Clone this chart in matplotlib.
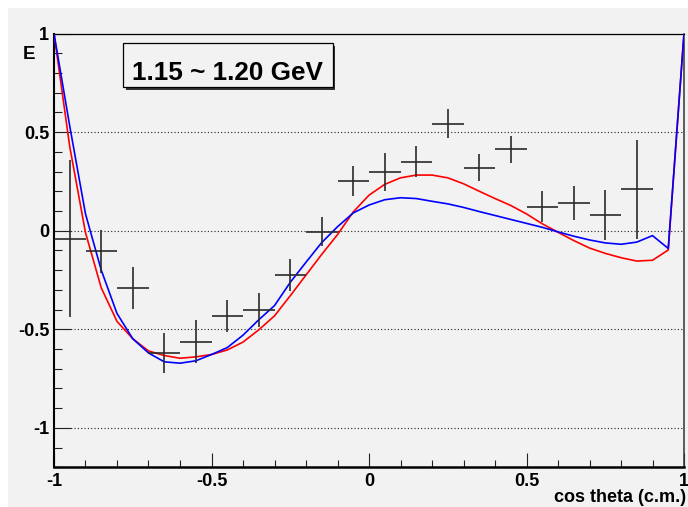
import matplotlib
matplotlib.use("Agg")
import matplotlib.pyplot as plt
from matplotlib.patches import Rectangle
from matplotlib.ticker import FixedLocator, FixedFormatter, MultipleLocator

plt.rcParams['font.family'] = ['Liberation Sans', 'DejaVu Sans']
plt.rcParams['font.weight'] = 'bold'

# measured E, 0.1 wide bins in cos theta
cos_bins = [-0.95, -0.85, -0.75, -0.65, -0.55, -0.45, -0.35, -0.25, -0.15, -0.05,
            0.05, 0.15, 0.25, 0.35, 0.45, 0.55, 0.65, 0.75, 0.85]
e_data = [-0.04, -0.105, -0.29, -0.62, -0.563, -0.433, -0.402, -0.225, -0.005, 0.252,
          0.298, 0.35, 0.543, 0.32, 0.413, 0.122, 0.139, 0.08, 0.21]
e_err = [0.40, 0.11, 0.105, 0.10, 0.11, 0.083, 0.087, 0.08, 0.075, 0.076,
         0.098, 0.08, 0.072, 0.069, 0.068, 0.078, 0.086, 0.125, 0.25]
bin_half = 0.05

# model curves
cos_model = [-1.0, -0.95, -0.9, -0.85, -0.8, -0.75, -0.7, -0.65, -0.6, -0.55,
             -0.5, -0.45, -0.4, -0.35, -0.3, -0.25, -0.2, -0.15, -0.1, -0.05,
             0.0, 0.05, 0.1, 0.15, 0.2, 0.25, 0.3, 0.35, 0.4, 0.45,
             0.5, 0.55, 0.6, 0.65, 0.7, 0.75, 0.8, 0.85, 0.9, 0.95, 1.0]
e_red = [1.0, 0.426, -0.01, -0.29, -0.46, -0.548, -0.61, -0.633, -0.647, -0.64,
         -0.628, -0.605, -0.565, -0.503, -0.432, -0.33, -0.225, -0.12, -0.02, 0.095,
         0.18, 0.235, 0.268, 0.282, 0.282, 0.268, 0.238, 0.2, 0.163, 0.128,
         0.085, 0.035, -0.008, -0.05, -0.088, -0.115, -0.137, -0.154, -0.15, -0.098, 1.0]
e_blue = [1.0, 0.53, 0.085, -0.2, -0.42, -0.548, -0.62, -0.665, -0.672, -0.66,
          -0.628, -0.593, -0.53, -0.452, -0.38, -0.262, -0.16, -0.06, 0.02, 0.09,
          0.13, 0.157, 0.167, 0.163, 0.149, 0.136, 0.118, 0.097, 0.077, 0.057,
          0.037, 0.017, -0.006, -0.028, -0.047, -0.062, -0.069, -0.058, -0.025, -0.09, 1.0]

x_ticks = [-1, -0.5, 0, 0.5, 1]
x_labels = ['-1', '-0.5', '0', '0.5', '1']
y_ticks = [-1, -0.5, 0, 0.5, 1]
y_labels = ['-1', '-0.5', '0', '0.5', '1']

W, H = 688, 507
pad_color = '#f2f2f2'

fig = plt.figure(figsize=(W / 100, H / 100), dpi=100)
fig.patch.set_facecolor('white')
# grey canvas pad, kept behind the axes
fig.patches.append(Rectangle((8 / W, 0), (W - 8) / W, (H - 8) / H, transform=fig.transFigure,
                             facecolor=pad_color, edgecolor='none', zorder=-1))

left, right, top, bottom = 54, 684, 33.5, 467.3
ax = fig.add_axes([left / W, 1 - bottom / H, (right - left) / W, (bottom - top) / H])
ax.set_facecolor(pad_color)
ax.set_xlim(-1, 1)
ax.set_ylim(-1.2, 1.0)

ax.spines['left'].set_linewidth(1.5)
ax.spines['bottom'].set_linewidth(1.8)
ax.spines['top'].set_linewidth(0.9)
ax.spines['right'].set_linewidth(1.1)
ax.spines['right'].set_color('#333333')

ax.xaxis.set_major_locator(FixedLocator(x_ticks))
ax.xaxis.set_major_formatter(FixedFormatter(x_labels))
ax.xaxis.set_minor_locator(MultipleLocator(0.1))
ax.yaxis.set_major_locator(FixedLocator(y_ticks))
ax.yaxis.set_major_formatter(FixedFormatter(y_labels))
ax.yaxis.set_minor_locator(MultipleLocator(0.1))

ax.tick_params(axis='both', which='both', direction='in', width=0.8, color='#222222',
               labelsize=13)
ax.tick_params(axis='y', which='major', length=12, pad=3.5)
ax.tick_params(axis='y', which='minor', length=6)
ax.tick_params(axis='x', which='major', length=10, pad=4)
ax.tick_params(axis='x', which='minor', length=5.3)

# dotted horizontal grid
ax.yaxis.grid(True, which='major', color='#222222', linestyle=(0, (1, 2)), linewidth=0.8)
ax.xaxis.grid(False)
ax.set_axisbelow(True)

ax.plot(cos_model, e_red, color='#ff0000', linewidth=1.2, zorder=3)
ax.plot(cos_model, e_blue, color='#0000ff', linewidth=1.2, zorder=4)

ax.errorbar(cos_bins, e_data, xerr=bin_half, yerr=e_err, fmt='none',
            ecolor='#2a2a2a', elinewidth=1.2, capsize=0, zorder=5)

# energy-bin label box with drop shadow
bx0, by0, bx1, by1 = 123.3, 43.3, 332.7, 87.3
fig.patches.append(Rectangle(((bx0 + 2.5) / W, 1 - (by1 + 2.5) / H), (bx1 - bx0) / W, (by1 - by0) / H,
                             transform=fig.transFigure, facecolor='#333333', edgecolor='none', zorder=5))
fig.patches.append(Rectangle((bx0 / W, 1 - by1 / H), (bx1 - bx0) / W, (by1 - by0) / H,
                             transform=fig.transFigure, facecolor=pad_color, edgecolor='black',
                             linewidth=0.9, zorder=6))
fig.text(227.5 / W, 1 - 79.5 / H, '1.15 ~ 1.20 GeV', fontsize=18.8, fontweight='bold',
         ha='center', va='baseline', zorder=7)

fig.text(29.5 / W, 1 - 59 / H, 'E', fontsize=13.5, fontweight='bold', ha='center', va='baseline')
fig.text(686.5 / W, 4.5 / H, 'cos theta (c.m.)', fontsize=13, fontweight='bold',
         ha='right', va='baseline')

fig.savefig('out.png', dpi=100)
